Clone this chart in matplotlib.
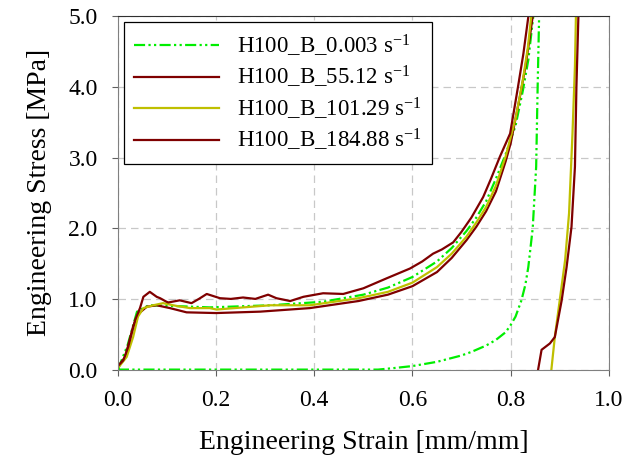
import numpy as np
import matplotlib
matplotlib.use('Agg')
import matplotlib.pyplot as plt

plt.rcParams['font.family'] = 'Liberation Serif'
plt.rcParams['mathtext.fontset'] = 'custom'
plt.rcParams['mathtext.rm'] = 'Liberation Serif'
plt.rcParams['mathtext.it'] = 'Liberation Serif:italic'

# H100_B_0.003 s^-1 (quasi-static): plateau part and the late rise
strain_qs_a = [0.0, 0.02, 0.039, 0.063, 0.113, 0.187, 0.310, 0.418, 0.50, 0.55, 0.60,
               0.65, 0.68, 0.71, 0.73, 0.75, 0.77, 0.79, 0.81, 0.825, 0.836, 0.846, 0.850]
stress_qs_a = [0.0, 0.35, 0.82, 0.91, 0.90, 0.88, 0.91, 0.96, 1.06, 1.16, 1.31,
               1.53, 1.72, 1.96, 2.15, 2.38, 2.70, 3.05, 3.45, 3.95, 4.38, 4.99, 5.3]
strain_qs_b = [0.0, 0.53, 0.56, 0.60, 0.65, 0.70, 0.72, 0.75, 0.77, 0.79, 0.80, 0.81,
               0.822, 0.83, 0.836, 0.845, 0.852, 0.855, 0.858, 0.860]
stress_qs_b = [0.0, 0.0, 0.02, 0.05, 0.11, 0.20, 0.25, 0.34, 0.42, 0.53, 0.63, 0.75,
               0.98, 1.20, 1.45, 2.00, 2.87, 3.99, 4.99, 5.3]

# H100_B_55.12 s^-1
strain_55 = [0.0, 0.015, 0.031, 0.042, 0.059, 0.079, 0.106, 0.140, 0.20, 0.290, 0.391,
             0.49, 0.55, 0.60, 0.65, 0.68, 0.71, 0.73, 0.75, 0.77, 0.79, 0.80, 0.81,
             0.82, 0.83, 0.84, 0.845, 0.848]
stress_55 = [0.04, 0.18, 0.61, 0.79, 0.89, 0.91, 0.87, 0.81, 0.80, 0.82, 0.87,
             0.97, 1.06, 1.18, 1.38, 1.58, 1.83, 2.02, 2.24, 2.52, 2.95, 3.20, 3.55,
             3.90, 4.28, 4.75, 5.0, 5.3]

# H100_B_101.29 s^-1: first loading and reloading branch
strain_101_a = [0.0, 0.018, 0.031, 0.041, 0.052, 0.072, 0.092, 0.120, 0.147, 0.187, 0.201,
                0.310, 0.391, 0.49, 0.55, 0.60, 0.65, 0.68, 0.71, 0.73, 0.75, 0.77, 0.79,
                0.81, 0.825, 0.835, 0.842, 0.845]
stress_101_a = [0.02, 0.18, 0.46, 0.75, 0.87, 0.91, 0.94, 0.90, 0.87, 0.87, 0.85,
                0.91, 0.91, 1.01, 1.10, 1.23, 1.45, 1.64, 1.88, 2.08, 2.30, 2.60, 3.02,
                3.55, 4.10, 4.55, 5.0, 5.3]
strain_101_b = [0.883, 0.890, 0.900, 0.911, 0.919, 0.926, 0.931, 0.933, 0.934]
stress_101_b = [0.0, 0.46, 0.98, 1.55, 2.21, 3.34, 4.29, 4.99, 5.3]

# H100_B_184.88 s^-1: first loading and reloading branch
strain_184_a = [0.0, 0.011, 0.021, 0.035, 0.045, 0.052, 0.065, 0.079, 0.086, 0.099, 0.103,
                0.126, 0.150, 0.165, 0.181, 0.208, 0.230, 0.255, 0.280, 0.306, 0.323, 0.351,
                0.378, 0.418, 0.459, 0.500, 0.547, 0.595, 0.62, 0.642, 0.66, 0.683, 0.70,
                0.72, 0.744, 0.76, 0.778, 0.799, 0.815, 0.826, 0.836, 0.840]
stress_184_a = [0.05, 0.13, 0.32, 0.70, 0.87, 1.03, 1.10, 1.03, 1.01, 0.96, 0.95,
                0.98, 0.94, 1.00, 1.07, 1.01, 1.00, 1.02, 1.00, 1.06, 1.01, 0.97,
                1.03, 1.08, 1.07, 1.15, 1.29, 1.43, 1.53, 1.64, 1.70, 1.80, 1.95,
                2.15, 2.44, 2.70, 3.01, 3.34, 4.00, 4.47, 4.99, 5.3]
strain_184_b = [0.856, 0.863, 0.880, 0.890, 0.904, 0.914, 0.924, 0.931, 0.934, 0.938, 0.939]
stress_184_b = [0.0, 0.28, 0.37, 0.46, 0.98, 1.45, 2.02, 2.87, 4.00, 4.99, 5.3]

labels = ['H100_B_0.003 s$^{-1}$', 'H100_B_55.12 s$^{-1}$',
          'H100_B_101.29 s$^{-1}$', 'H100_B_184.88 s$^{-1}$']


def join(xa, ya, xb=None, yb=None):
    if xb is None:
        return np.array(xa), np.array(ya)
    return np.r_[xa, np.nan, xb], np.r_[ya, np.nan, yb]


fig = plt.figure(figsize=(6.27, 4.62), dpi=100)
ax = fig.add_axes([0.188, 0.200, 0.783, 0.765])

x, y = join(strain_qs_a, stress_qs_a, strain_qs_b, stress_qs_b)
ax.plot(x, y, color='#00EE00', lw=1.6, ls=(0, (5, 1.5, 1, 1.5, 1, 1.5)), label=labels[0])
x, y = join(strain_55, stress_55)
ax.plot(x, y, color='#7F0000', lw=1.6, label=labels[1])
x, y = join(strain_101_a, stress_101_a, strain_101_b, stress_101_b)
ax.plot(x, y, color='#BFBF00', lw=1.6, label=labels[2])
x, y = join(strain_184_a, stress_184_a, strain_184_b, stress_184_b)
ax.plot(x, y, color='#7F0000', lw=1.6, label=labels[3])

ax.set_xlim(0, 1.0)
ax.set_ylim(0, 5.0)
ax.set_xticks(np.arange(0, 1.01, 0.2))
ax.set_yticks(np.arange(0, 5.01, 1.0))
ax.set_xticklabels([f'{v:.1f}' for v in np.arange(0, 1.01, 0.2)])
ax.set_yticklabels([f'{v:.1f}' for v in np.arange(0, 5.01, 1.0)])
ax.tick_params(labelsize=17, length=4, width=0.8, color='#606060', pad=10.5)
ax.grid(True, color='#C8C8C8', ls=(0, (6, 4)), lw=0.9)
for side in ['left', 'right', 'bottom']:
    ax.spines[side].set_color('#808080')
ax.spines['top'].set_color('#303030')

ax.set_xlabel('Engineering Strain [mm/mm]', fontsize=20, labelpad=14)
ax.set_ylabel('Engineering Stress [MPa]', fontsize=20, labelpad=12)

leg = ax.legend(loc='upper left', bbox_to_anchor=(0.0124, 0.983), borderaxespad=0,
                fontsize=16.5, handlelength=3.7, handletextpad=0.8, labelspacing=0.24,
                frameon=True, fancybox=False, framealpha=1, borderpad=0.45)
leg.get_frame().set_edgecolor('black')
leg.get_frame().set_linewidth(0.9)

fig.savefig('out.png', dpi=100)
